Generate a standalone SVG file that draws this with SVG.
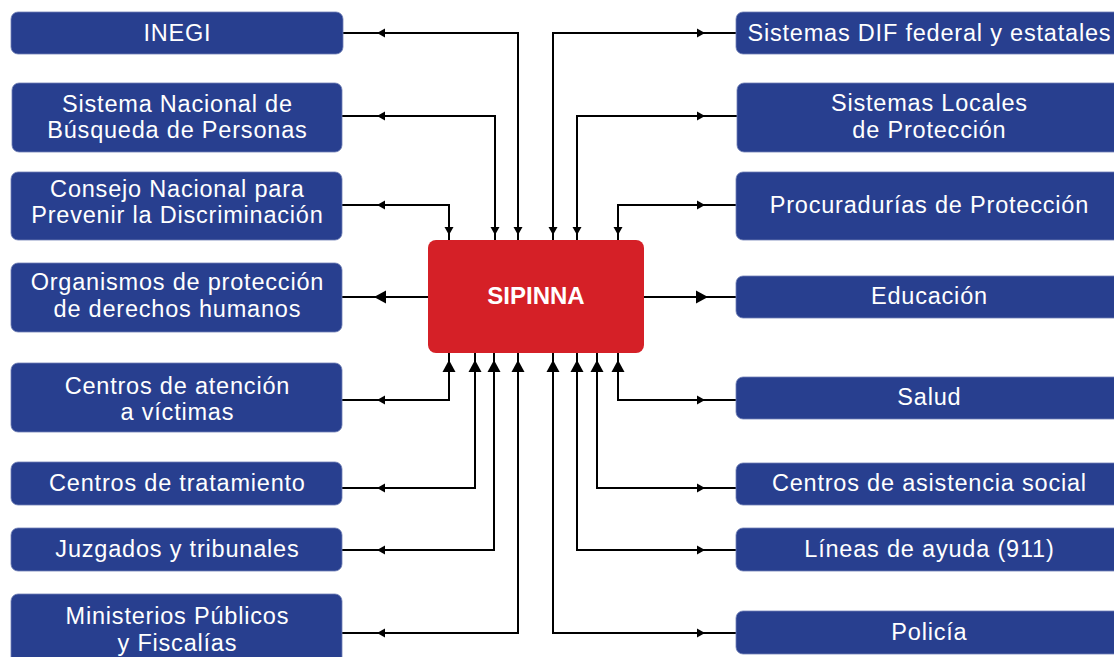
<svg xmlns="http://www.w3.org/2000/svg" xmlns:xlink="http://www.w3.org/1999/xlink" width="1114" height="657" viewBox="0 0 1114 657">
<defs>
<style>
.box{fill:#283F8F;stroke:#6F7FB5;stroke-width:0.8}
.t{font-family:"Liberation Sans",Arial,sans-serif;font-size:23.5px;fill:#fff;text-anchor:middle;letter-spacing:0.8px}
.main{fill:#D52027}
.mt{font-family:"Liberation Sans",Arial,sans-serif;font-size:24px;font-weight:bold;fill:#fff;text-anchor:middle}
.c{fill:none;stroke:#000;stroke-width:2}
</style>
<path id="a" d="M0,0 L-8,-4.5 L-8,4.5 Z" fill="#000"/>
<path id="A" d="M0,0 L-12,-6.5 L-12,6.5 Z" fill="#000"/>
</defs>
<rect width="1114" height="657" fill="#fff"/>

<g id="connectors">
<path class="c" d="M343,33 H518 V240"/>
<path class="c" d="M342,116 H495 V240"/>
<path class="c" d="M342,205 H449 V240"/>
<path class="c" d="M342,297 H428"/>
<path class="c" d="M342,400 H449 V353"/>
<path class="c" d="M342,488 H475 V353"/>
<path class="c" d="M342,550 H494 V353"/>
<path class="c" d="M342,633 H518 V353"/>
<path class="c" d="M553,240 V33 H736"/>
<path class="c" d="M577,240 V116 H737"/>
<path class="c" d="M618,240 V205 H736"/>
<path class="c" d="M644,297 H736"/>
<path class="c" d="M618,353 V400 H736"/>
<path class="c" d="M597,353 V488 H736"/>
<path class="c" d="M577,353 V550 H736"/>
<path class="c" d="M553,353 V633 H736"/>
<use xlink:href="#a" transform="translate(377,33) rotate(180)"/>
<use xlink:href="#a" transform="translate(377,116) rotate(180)"/>
<use xlink:href="#a" transform="translate(377,205) rotate(180)"/>
<use xlink:href="#A" transform="translate(374,297) rotate(180)"/>
<use xlink:href="#a" transform="translate(377,400) rotate(180)"/>
<use xlink:href="#a" transform="translate(377,488) rotate(180)"/>
<use xlink:href="#a" transform="translate(377,550) rotate(180)"/>
<use xlink:href="#a" transform="translate(377,633) rotate(180)"/>
<use xlink:href="#a" transform="translate(705,33)"/>
<use xlink:href="#a" transform="translate(705,116)"/>
<use xlink:href="#a" transform="translate(705,205)"/>
<use xlink:href="#A" transform="translate(708,297)"/>
<use xlink:href="#a" transform="translate(705,400)"/>
<use xlink:href="#a" transform="translate(705,488)"/>
<use xlink:href="#a" transform="translate(705,550)"/>
<use xlink:href="#a" transform="translate(705,633)"/>
<use xlink:href="#a" transform="translate(518,235) rotate(90)"/>
<use xlink:href="#a" transform="translate(495,235) rotate(90)"/>
<use xlink:href="#a" transform="translate(449,235) rotate(90)"/>
<use xlink:href="#a" transform="translate(553,235) rotate(90)"/>
<use xlink:href="#a" transform="translate(577,235) rotate(90)"/>
<use xlink:href="#a" transform="translate(618,235) rotate(90)"/>
<use xlink:href="#A" transform="translate(449,360) rotate(-90)"/>
<use xlink:href="#A" transform="translate(475,360) rotate(-90)"/>
<use xlink:href="#A" transform="translate(494,360) rotate(-90)"/>
<use xlink:href="#A" transform="translate(518,360) rotate(-90)"/>
<use xlink:href="#A" transform="translate(553,360) rotate(-90)"/>
<use xlink:href="#A" transform="translate(577,360) rotate(-90)"/>
<use xlink:href="#A" transform="translate(597,360) rotate(-90)"/>
<use xlink:href="#A" transform="translate(618,360) rotate(-90)"/>
</g>

<g id="sipinna">
<rect class="main" x="428" y="240" width="216" height="113" rx="8"/>
<text class="mt" x="536" y="304">SIPINNA</text>
</g>

<g id="inegi">
<rect class="box" x="11" y="12" width="332" height="42" rx="7"/>
<text class="t" x="177.4" y="41">INEGI</text>
</g>
<g id="sistema-nacional">
<rect class="box" x="12" y="83" width="330" height="69" rx="7"/>
<text class="t" x="177.4" y="112">Sistema Nacional de</text>
<text class="t" x="177.4" y="138">Búsqueda de Personas</text>
</g>
<g id="consejo">
<rect class="box" x="11" y="172" width="331" height="68" rx="7"/>
<text class="t" x="177.4" y="197">Consejo Nacional para</text>
<text class="t" x="177.4" y="223">Prevenir la Discriminación</text>
</g>
<g id="organismos">
<rect class="box" x="11" y="263" width="331" height="69" rx="7"/>
<text class="t" x="177.4" y="290">Organismos de protección</text>
<text class="t" x="177.4" y="317">de derechos humanos</text>
</g>
<g id="centros-atencion">
<rect class="box" x="11" y="363" width="331" height="69" rx="7"/>
<text class="t" x="177.4" y="394">Centros de atención</text>
<text class="t" x="177.4" y="420">a víctimas</text>
</g>
<g id="centros-tratamiento">
<rect class="box" x="11" y="462" width="331" height="43" rx="7"/>
<text class="t" x="177.4" y="491">Centros de tratamiento</text>
</g>
<g id="juzgados">
<rect class="box" x="11" y="528" width="331" height="43" rx="7"/>
<text class="t" x="177.4" y="557">Juzgados y tribunales</text>
</g>
<g id="ministerios">
<rect class="box" x="11" y="594" width="331" height="80" rx="7"/>
<text class="t" x="177.4" y="624">Ministerios Públicos</text>
<text class="t" x="177.4" y="651">y Fiscalías</text>
</g>

<g id="dif">
<rect class="box" x="736" y="12" width="390" height="42" rx="7"/>
<text class="t" x="929.4" y="41">Sistemas DIF federal y estatales</text>
</g>
<g id="sistemas-locales">
<rect class="box" x="737" y="83" width="390" height="69" rx="7"/>
<text class="t" x="929.4" y="111">Sistemas Locales</text>
<text class="t" x="929.4" y="138">de Protección</text>
</g>
<g id="procuradurias">
<rect class="box" x="736" y="172" width="390" height="68" rx="7"/>
<text class="t" x="929.4" y="213">Procuradurías de Protección</text>
</g>
<g id="educacion">
<rect class="box" x="736" y="276" width="390" height="42" rx="7"/>
<text class="t" x="929.4" y="304">Educación</text>
</g>
<g id="salud">
<rect class="box" x="736" y="377" width="390" height="42" rx="7"/>
<text class="t" x="929.4" y="405">Salud</text>
</g>
<g id="centros-asistencia">
<rect class="box" x="736" y="463" width="390" height="42" rx="7"/>
<text class="t" x="929.4" y="491">Centros de asistencia social</text>
</g>
<g id="lineas">
<rect class="box" x="736" y="528" width="390" height="43" rx="7"/>
<text class="t" x="929.4" y="557">Líneas de ayuda (911)</text>
</g>
<g id="policia">
<rect class="box" x="736" y="611" width="390" height="43" rx="7"/>
<text class="t" x="929.4" y="640">Policía</text>
</g>
</svg>
